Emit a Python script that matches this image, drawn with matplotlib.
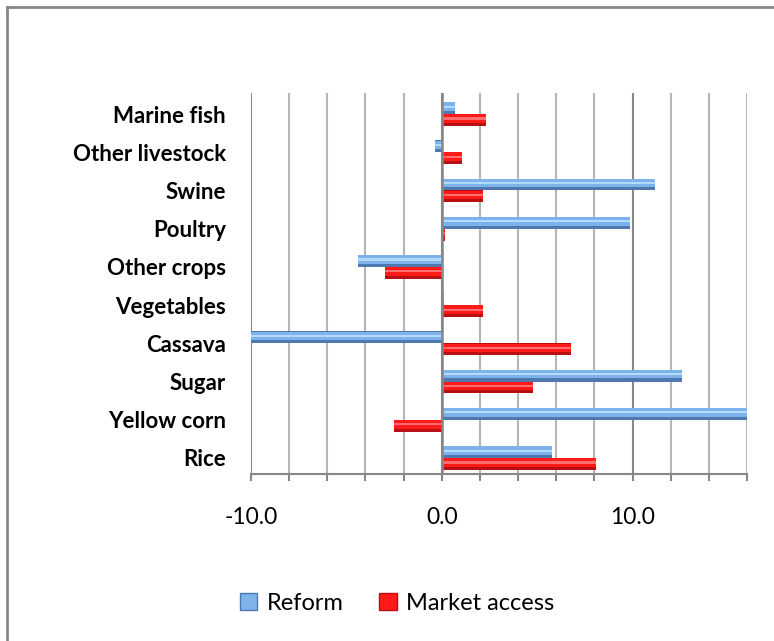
import matplotlib.pyplot as plt
import numpy as np
from matplotlib.lines import Line2D
from matplotlib.patches import Patch

categories = ["Rice", "Yellow corn", "Sugar", "Cassava", "Vegetables",
              "Other crops", "Poultry", "Swine", "Other livestock", "Marine fish"]
reform = [5.8, 17.0, 12.6, -11.0, 0.1, -4.4, 9.85, 11.2, -0.35, 0.7]
market_access = [8.1, -2.5, 4.8, 6.8, 2.15, -3.0, 0.15, 2.15, 1.05, 2.3]
xticks_major = [-10, 0, 10]
xtick_labels = ["-10.0", "0.0", "10.0"]

FONT = "Lato"
BLUE_DARK = "#4F79AE"
BLUE_MID = "#7DB2EA"
BLUE_HI = "#B4DAFA"
RED_DARK = "#B80F12"
RED_MID = "#FF1A1A"
RED_HI = "#FF6F6F"
GRID_MAJOR = "#878787"
GRID_MINOR = "#B5B5B5"

plt.rcParams["font.family"] = [FONT, "DejaVu Sans"]

fig = plt.figure(figsize=(7.74, 6.41), dpi=100)
ax = fig.add_axes([251 / 774, 1 - 474 / 641, (747 - 251) / 774, (474 - 93) / 641])

y = np.arange(len(categories))
h = 0.31


def fancy_bars(vals, center, dark, mid, hi):
    # base (darker lower edge), lighter body, thin highlight stripe
    ax.barh(center, vals, height=h, color=dark, zorder=3, linewidth=0)
    ax.barh(center + h * 0.12, vals, height=h * 0.72, color=mid, zorder=4, linewidth=0)
    ax.barh(center + h * 0.12, vals, height=h * 0.18, color=hi, zorder=5, linewidth=0)


fancy_bars(reform, y + h / 2, BLUE_DARK, BLUE_MID, BLUE_HI)
fancy_bars(market_access, y - h / 2, RED_DARK, RED_MID, RED_HI)

ax.set_xlim(-10, 16)
ax.set_ylim(-0.42, 9.55)

ax.set_xticks(xticks_major)
ax.set_xticklabels(xtick_labels, fontsize=16.5, fontfamily=FONT)
ax.set_xticks(np.arange(-10, 17, 2), minor=True)
ax.tick_params(axis="x", which="both", direction="out", length=5, width=1.5,
               color=GRID_MAJOR, pad=19)

ax.set_yticks(y)
ax.set_yticklabels(categories, fontsize=16, fontweight="bold", fontfamily=FONT)
ax.tick_params(axis="y", length=0, pad=18)

ax.grid(axis="x", which="minor", color=GRID_MINOR, linewidth=1.5, zorder=0)
ax.grid(axis="x", which="major", color=GRID_MAJOR, linewidth=1.5, zorder=1)
ax.axvline(0, color=GRID_MAJOR, linewidth=1.8, zorder=6)

for side in ["top", "right", "left"]:
    ax.spines[side].set_visible(False)
ax.spines["bottom"].set_color(GRID_MAJOR)
ax.spines["bottom"].set_linewidth(1.5)

handles = [
    Patch(facecolor=BLUE_MID, edgecolor=BLUE_DARK, label="Reform"),
    Patch(facecolor=RED_MID, edgecolor=RED_DARK, label="Market access"),
]
fig.legend(handles=handles, loc="center", bbox_to_anchor=(0.513, 0.059), ncol=2,
           frameon=False, fontsize=17, handlelength=0.75, handleheight=0.75,
           handletextpad=0.4, columnspacing=1.5)

# chart-area border (only top and left are visible in the crop)
fig.add_artist(Line2D([6.5 / 774, 1], [1 - 6.5 / 641] * 2, transform=fig.transFigure,
                      color=GRID_MAJOR, linewidth=2))
fig.add_artist(Line2D([6.5 / 774] * 2, [0, 1 - 6.5 / 641], transform=fig.transFigure,
                      color=GRID_MAJOR, linewidth=2))

fig.savefig("out.png", dpi=100)
